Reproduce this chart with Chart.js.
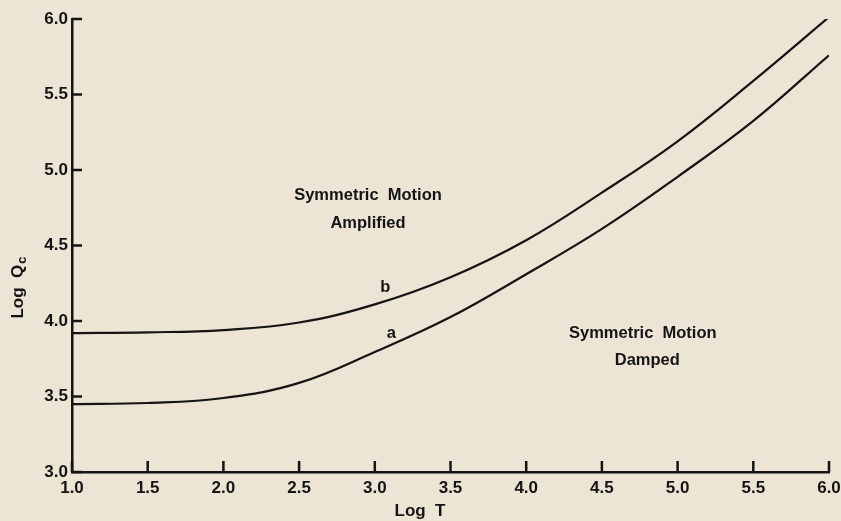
<!DOCTYPE html>
<html>
<head>
<meta charset="utf-8">
<script src="https://cdn.jsdelivr.net/npm/chart.js@4.4.1/dist/chart.umd.min.js"></script>
<style>
  html, body { margin: 0; padding: 0; background: #ece4d4; }
  #wrap { width: 841px; height: 521px; }
</style>
</head>
<body>
<div id="wrap"><canvas id="chart"></canvas></div>
<script>
// Log T values
const logT = [1.0, 1.5, 2.0, 2.5, 3.0, 3.5, 4.0, 4.5, 5.0, 5.5, 6.0];
// curve b (upper) and curve a (lower), Log Qc
const curveB = [3.92, 3.925, 3.94, 3.99, 4.11, 4.29, 4.535, 4.85, 5.19, 5.59, 6.013];
const curveA = [3.45, 3.457, 3.49, 3.59, 3.795, 4.026, 4.31, 4.61, 4.955, 5.325, 5.76];

const xTicks = [1.0, 1.5, 2.0, 2.5, 3.0, 3.5, 4.0, 4.5, 5.0, 5.5, 6.0];
const yTicks = [3.0, 3.5, 4.0, 4.5, 5.0, 5.5, 6.0];

// text in the plot, placed in data units
const notes = [
  { text: 'Symmetric  Motion', x: 2.955, y: 4.834 },
  { text: 'Amplified', x: 2.955, y: 4.649 },
  { text: 'b', x: 3.07, y: 4.225 },
  { text: 'a', x: 3.11, y: 3.92 },
  { text: 'Symmetric  Motion', x: 4.77, y: 3.92 },
  { text: 'Damped', x: 4.80, y: 3.742 }
];

const FONT = '"Liberation Sans", Arial, sans-serif';
const INK = '#141414';

const toPoints = (ys) => logT.map((x, i) => ({ x, y: ys[i] }));

// paper colour behind everything
const paper = {
  id: 'paper',
  beforeDraw(chart) {
    const { ctx, width, height } = chart;
    ctx.save();
    ctx.fillStyle = '#ece4d4';
    ctx.fillRect(0, 0, width, height);
    ctx.restore();
  }
};

// inward tick marks, notes and axis titles
const decor = {
  id: 'decor',
  afterDraw(chart) {
    const { ctx, chartArea } = chart;
    const xs = chart.scales.x, ys = chart.scales.y;
    ctx.save();
    ctx.strokeStyle = INK;
    ctx.lineWidth = 2.5;
    xTicks.forEach(v => {
      const px = xs.getPixelForValue(v);
      ctx.beginPath();
      ctx.moveTo(px, chartArea.bottom);
      ctx.lineTo(px, chartArea.bottom - 11);
      ctx.stroke();
    });
    yTicks.forEach(v => {
      const py = ys.getPixelForValue(v);
      ctx.beginPath();
      ctx.moveTo(chartArea.left, py);
      ctx.lineTo(chartArea.left + 10, py);
      ctx.stroke();
    });

    ctx.fillStyle = INK;
    ctx.textAlign = 'center';
    ctx.textBaseline = 'middle';
    ctx.font = 'bold 16.5px ' + FONT;
    notes.forEach(n => {
      ctx.fillText(n.text, xs.getPixelForValue(n.x), ys.getPixelForValue(n.y));
    });

    // x title
    ctx.font = 'bold 17px ' + FONT;
    ctx.fillText('Log  T', 420, 511);

    // y title with subscript c
    ctx.translate(18, 288);
    ctx.rotate(-Math.PI / 2);
    ctx.textAlign = 'left';
    const main = 'Log  Q';
    const w = ctx.measureText(main).width;
    ctx.font = 'bold 13px ' + FONT;
    const wc = ctx.measureText('c').width;
    const start = -(w + wc) / 2;
    ctx.font = 'bold 17px ' + FONT;
    ctx.fillText(main, start, 0);
    ctx.font = 'bold 13px ' + FONT;
    ctx.fillText('c', start + w + 1, 4);
    ctx.restore();
  }
};

const lineStyle = {
  borderColor: INK,
  borderWidth: 2.2,
  pointRadius: 0,
  fill: false,
  tension: 0.4
};

new Chart(document.getElementById('chart'), {
  type: 'line',
  data: {
    datasets: [
      { label: 'b', data: toPoints(curveB), ...lineStyle },
      { label: 'a', data: toPoints(curveA), ...lineStyle }
    ]
  },
  options: {
    responsive: true,
    maintainAspectRatio: false,
    animation: false,
    layout: { padding: { top: 19, right: 12, left: 0, bottom: 0 } },
    plugins: {
      legend: { display: false },
      tooltip: { enabled: false }
    },
    scales: {
      x: {
        type: 'linear',
        min: 1,
        max: 6,
        afterFit: s => { s.height = 49; s.paddingRight = 0; s.paddingLeft = 0; },
        afterBuildTicks: s => { s.ticks = xTicks.map(v => ({ value: v })); },
        grid: { display: false, drawTicks: false },
        border: { display: true, color: INK, width: 2.5 },
        ticks: {
          autoSkip: false,
          maxRotation: 0,
          padding: 6,
          color: INK,
          font: { family: FONT, size: 17, weight: 'bold' },
          callback: v => v.toFixed(1)
        }
      },
      y: {
        type: 'linear',
        min: 3,
        max: 6,
        afterFit: s => { s.width = 72; },
        afterBuildTicks: s => { s.ticks = yTicks.map(v => ({ value: v })); },
        grid: { display: false, drawTicks: false },
        border: { display: true, color: INK, width: 2.5 },
        ticks: {
          padding: 4,
          color: INK,
          font: { family: FONT, size: 17, weight: 'bold' },
          callback: v => v.toFixed(1)
        }
      }
    }
  },
  plugins: [paper, decor]
});
</script>
</body>
</html>
